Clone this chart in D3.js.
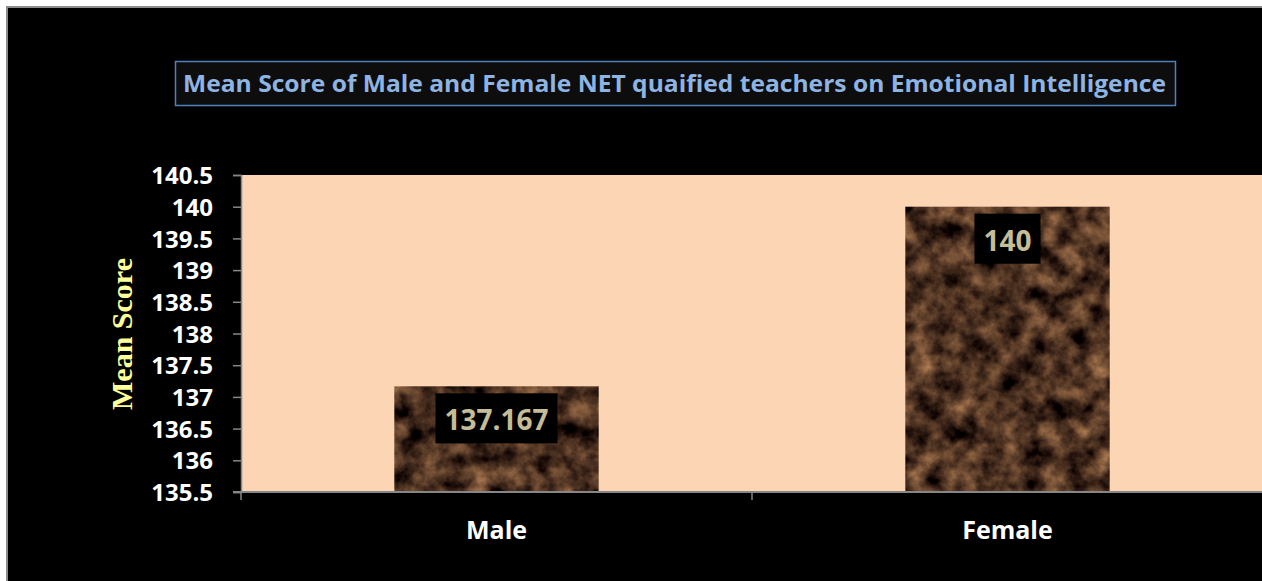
<!DOCTYPE html>
<html>
<head>
<meta charset="utf-8">
<script src="https://cdn.jsdelivr.net/npm/d3@7"></script>
<style>
  body { margin: 0; background: #fff; }
  svg { display: block; }
</style>
</head>
<body>
<svg id="chart" width="1262" height="581"></svg>
<script>
let categories = ['Male', 'Female']
let values = [137.167, 140]
let valueLabels = ['137.167', '140']
let yTicks = [135.5, 136, 136.5, 137, 137.5, 138, 138.5, 139, 139.5, 140, 140.5]

let titleText = 'Mean Score of Male and Female NET quaified teachers on Emotional Intelligence'
let yTitle = 'Mean Score'

let svg = d3.select('#chart')

// outer chart area (black with grey frame on top/left)
svg.append('rect')
    .attr('x', 7).attr('y', 7)
    .attr('width', 1262).attr('height', 600)
    .attr('fill', '#000')
    .attr('stroke', '#8c8c8c')
    .attr('stroke-width', 2)

// marble texture for bars
let defs = svg.append('defs')
let filter = defs.append('filter')
    .attr('id', 'marble')
    .attr('x', 0).attr('y', 0).attr('width', 1).attr('height', 1)
    .attr('color-interpolation-filters', 'sRGB')
filter.append('feTurbulence')
    .attr('type', 'fractalNoise')
    .attr('baseFrequency', '0.045')
    .attr('numOctaves', 4)
    .attr('seed', 7)
    .attr('result', 'noise')
filter.append('feColorMatrix')
    .attr('in', 'noise')
    .attr('type', 'matrix')
    .attr('values', '1.0 0 0 0 -0.2  0.75 0 0 0 -0.18  0.5 0 0 0 -0.12  0 0 0 0 1')
    .attr('result', 'col')
filter.append('feComposite')
    .attr('in', 'col')
    .attr('in2', 'SourceGraphic')
    .attr('operator', 'in')

let plotLeft = 241, plotRight = 1263, plotTop = 175, plotBottom = 492

let x = d3.scaleBand()
    .domain(categories)
    .range([plotLeft, plotRight])
    .paddingInner(0.6)
    .paddingOuter(0.3)

let y = d3.scaleLinear()
    .domain([135.5, 140.5])
    .range([plotBottom, plotTop])

// plot area
svg.append('rect')
    .attr('x', plotLeft).attr('y', plotTop)
    .attr('width', plotRight - plotLeft).attr('height', plotBottom - plotTop)
    .attr('fill', '#fcd5b5')

// title box
let titleG = svg.append('g')
titleG.append('rect')
    .attr('x', 175.5).attr('y', 61.5)
    .attr('width', 1000).attr('height', 44)
    .attr('fill', '#0d0d0d')
    .attr('stroke', '#4f81bd')
    .attr('stroke-width', 1.5)
titleG.append('text')
    .attr('x', 183).attr('y', 92)
    .attr('textLength', 983)
    .attr('lengthAdjust', 'spacingAndGlyphs')
    .attr('fill', '#8eb4e3')
    .style('font-family', "'Open Sans', sans-serif")
    .style('font-weight', 'bold')
    .style('font-size', '23px')
    .text(titleText)

// bars
svg.selectAll('.bar')
    .data(values)
    .enter()
    .append('rect')
    .attr('class', 'bar')
    .attr('x', (d, i) => x(categories[i]))
    .attr('y', (d) => y(d))
    .attr('width', x.bandwidth())
    .attr('height', (d) => plotBottom - y(d))
    .attr('fill', '#4b3222')
    .attr('filter', 'url(#marble)')

// value labels
let labelG = svg.selectAll('.vlabel')
    .data(values)
    .enter()
    .append('g')
    .attr('class', 'vlabel')
labelG.append('text')
    .attr('x', (d, i) => x(categories[i]) + x.bandwidth() / 2)
    .attr('y', (d) => y(d) + 44)
    .attr('text-anchor', 'middle')
    .attr('fill', '#c4bd97')
    .style('font-family', "'Open Sans', sans-serif")
    .style('font-weight', 'bold')
    .style('font-size', '28px')
    .text((d, i) => valueLabels[i])
    .each(function () {
        let b = this.getBBox()
        let cy = +d3.select(this).attr('y') - 12
        d3.select(this.parentNode).insert('rect', 'text')
            .attr('x', b.x - 9)
            .attr('y', cy - 25)
            .attr('width', b.width + 18)
            .attr('height', 50)
            .attr('fill', '#000')
    })

// y axis
let yAxis = svg.append('g')
    .attr('transform', `translate(${plotLeft},0)`)
    .call(d3.axisLeft(y).tickValues(yTicks).tickSize(8).tickPadding(20).tickFormat(d3.format('')))
yAxis.select('.domain').attr('stroke', '#868686').attr('stroke-width', 1.5)
yAxis.selectAll('.tick line').attr('stroke', '#868686').attr('stroke-width', 1.5)
yAxis.selectAll('.tick text')
    .attr('fill', '#fff')
    .attr('dy', '0.36em')
    .style('font-family', "'Open Sans', sans-serif")
    .style('font-weight', 'bold')
    .style('font-size', '24px')

// x axis
let xAxisG = svg.append('g')
xAxisG.append('line')
    .attr('x1', plotLeft - 8).attr('x2', plotRight)
    .attr('y1', plotBottom).attr('y2', plotBottom)
    .attr('stroke', '#868686').attr('stroke-width', 2)
let boundaries = [plotLeft, (x(categories[0]) + x.bandwidth() + x(categories[1])) / 2]
xAxisG.selectAll('.xtick')
    .data(boundaries)
    .enter()
    .append('line')
    .attr('x1', (d) => d).attr('x2', (d) => d)
    .attr('y1', plotBottom).attr('y2', plotBottom + 8)
    .attr('stroke', '#868686').attr('stroke-width', 1.5)
xAxisG.selectAll('.xlabel')
    .data(categories)
    .enter()
    .append('text')
    .attr('x', (d) => x(d) + x.bandwidth() / 2)
    .attr('y', 539)
    .attr('text-anchor', 'middle')
    .attr('fill', '#fff')
    .style('font-family', "'Open Sans', sans-serif")
    .style('font-weight', 'bold')
    .style('font-size', '25px')
    .text((d) => d)

// y axis title
svg.append('text')
    .attr('transform', 'translate(132,334) rotate(-90)')
    .attr('text-anchor', 'middle')
    .attr('fill', '#ffff99')
    .style('font-family', "'Liberation Serif', 'DejaVu Serif', serif")
    .style('font-weight', 'bold')
    .style('font-size', '30px')
    .text(yTitle)
</script>
</body>
</html>
